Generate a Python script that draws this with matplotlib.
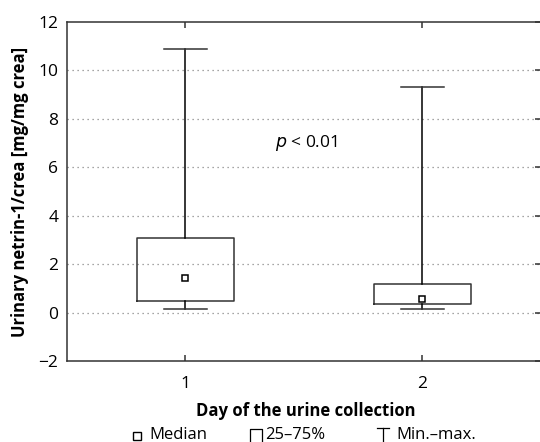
import matplotlib
matplotlib.use("Agg")
import matplotlib.pyplot as plt
from matplotlib.lines import Line2D

plt.rcParams['font.family'] = ['Open Sans', 'DejaVu Sans']

# Data
days = [1, 2]
q1 = [0.49, 0.37]
q3 = [3.09, 1.16]
medians = [1.44, 0.57]
mins = [0.13, 0.16]
maxs = [10.87, 9.33]
yticks = [-2, 0, 2, 4, 6, 8, 10, 12]
ytick_labels = ['\u22122', '0', '2', '4', '6', '8', '10', '12']

ink = '#333333'

fig = plt.figure(figsize=(5.4, 4.42), dpi=100)
ax = fig.add_axes([66.7 / 540, 81 / 442, (541 - 66.7) / 540, 339 / 442])

stats = []
for i in range(len(days)):
    stats.append(dict(med=medians[i], q1=q1[i], q3=q3[i],
                      whislo=mins[i], whishi=maxs[i], fliers=[]))

ax.bxp(stats, positions=days, widths=0.41, capwidths=0.18,
       showfliers=False, patch_artist=False,
       boxprops=dict(color=ink, linewidth=1.1),
       whiskerprops=dict(color='black', linewidth=1.1),
       capprops=dict(color=ink, linewidth=1.1),
       medianprops=dict(linewidth=0))
ax.plot(days, medians, 's', ms=5, mfc='white', mec='black', mew=1.1, zorder=5)

ax.set_xlim(0.5, 2.5)
ax.set_ylim(-2, 12)
ax.set_yticks(yticks)
ax.set_yticklabels(ytick_labels)
ax.set_xticks(days)
ax.set_xticklabels([str(d) for d in days])

for y in yticks[1:-1]:
    ax.axhline(y, color='#888888', linestyle=(0, (1, 3)), linewidth=0.9, zorder=0)

for s in ax.spines.values():
    s.set_color(ink)
    s.set_linewidth(1.1)

ax.tick_params(axis='y', left=False, right=True, labelleft=True,
               direction='in', length=4, width=1.1, color=ink,
               labelsize=12.5, pad=6)
ax.tick_params(axis='x', bottom=True, top=True, direction='in', length=4,
               width=1.1, labelsize=12.5, pad=11, color=ink)

ax.set_ylabel('Urinary netrin-1/crea [mg/mg crea]', fontsize=12,
              fontweight='bold', labelpad=7)

ax.text(1.38, 7.0, r'$p$ < 0.01', fontsize=12.5, va='center', ha='left')

fig.text(306 / 540, 1 - 411.5 / 442, 'Day of the urine collection',
         fontsize=12, fontweight='bold', ha='center', va='center')

# legend row along the bottom edge
def fx(px):
    return px / 540

def fy(py):
    return 1 - py / 442

ty = fy(435)
fig.add_artist(Line2D([fx(136.5)], [fy(435.5)], marker='s', ms=5.5, mfc='white',
                      mec='black', mew=1.0, transform=fig.transFigure))
fig.text(fx(149), ty, 'Median', fontsize=12, ha='left', va='center')
fig.add_artist(Line2D([fx(250), fx(250), fx(262), fx(262)],
                      [fy(443), fy(429), fy(429), fy(443)],
                      color='black', linewidth=0.9, transform=fig.transFigure))
fig.text(fx(265), ty, '25\u201375%', fontsize=12, ha='left', va='center')
fig.add_artist(Line2D([fx(377), fx(389)], [fy(428), fy(428)],
                      color='black', linewidth=0.9, transform=fig.transFigure))
fig.add_artist(Line2D([fx(383), fx(383)], [fy(428), fy(443)],
                      color='black', linewidth=0.9, transform=fig.transFigure))
fig.text(fx(396), ty, 'Min.\u2013max.', fontsize=12, ha='left', va='center')

fig.savefig('out.png', dpi=100)
